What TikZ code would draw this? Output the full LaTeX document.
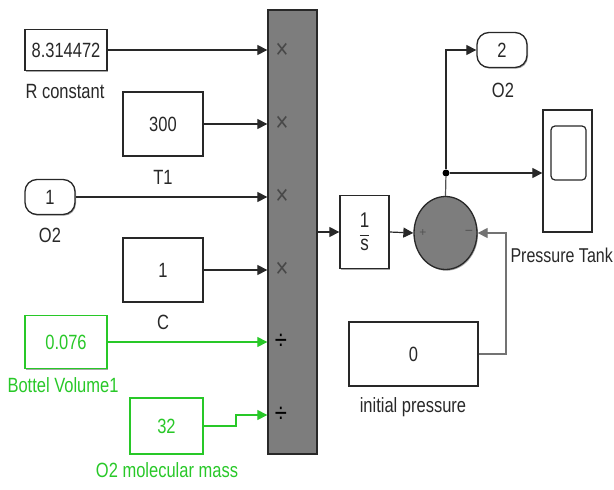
\documentclass[tikz,border=0pt]{standalone}
\usepackage{fontspec}
\setmainfont{Liberation Sans}
\usepackage{graphicx}
\usetikzlibrary{arrows.meta,shapes.geometric,shadows,calc}
\definecolor{sgreen}{RGB}{40,200,40}
\definecolor{ink}{RGB}{40,40,40}
\definecolor{blkgray}{RGB}{125,125,125}
\newcommand\vs[1]{\scalebox{1}[1.25]{#1}}
\begin{document}
\begin{tikzpicture}[x=1pt,y=-1pt,
  every node/.style={font=\fontsize{16.5}{18}\selectfont, text=ink, inner sep=0pt},
  blk/.style={draw=ink, line width=1.3pt, fill=white, rectangle,
    drop shadow={shadow xshift=1pt,shadow yshift=-1.2pt,fill=black,opacity=0.35}},
  gblk/.style={blk, draw=sgreen, text=sgreen},
  portblk/.style={blk, rounded corners=12pt},
  conn/.style={draw=ink, line width=1.2pt, -{Triangle[length=10pt,width=10pt]}},
  gconn/.style={conn, color=sgreen},
  plain/.style={draw=ink!80, line width=1.2pt},
  glbl/.style={text=sgreen},
  sign/.style={font=\fontsize{22}{22}\selectfont, text=ink!85},
]
\useasboundingbox (0,0) rectangle (614,490);

% source blocks
\node[blk, minimum width=82, minimum height=41] (R) at (66,50) {\vs{8.314472}};
\node at (65,92) {\vs{R constant}};
\node[blk, minimum width=80, minimum height=64] (T) at (163,124) {\vs{300}};
\node at (163,177) {\vs{T1}};
\node[portblk, minimum width=50, minimum height=35] (In) at (50,197) {\vs{1}};
\node at (50,235) {\vs{O2}};
\node[blk, minimum width=80, minimum height=64] (C) at (163,270) {\vs{1}};
\node at (163,322) {\vs{C}};
\node[gblk, minimum width=82, minimum height=53] (V) at (66,342) {\vs{0.076}};
\node[glbl] at (63,385) {\vs{Bottel Volume1}};
\node[gblk, minimum width=73, minimum height=56] (M) at (166.5,426) {\vs{32}};
\node[glbl] at (167,470) {\vs{O2 molecular mass}};

% product block
\node[blk, fill=blkgray, minimum width=49, minimum height=444] (P) at (292.5,232) {};
\node[sign] (s1) at (282,51) {\vs{\texttimes}};
\node[sign] (s2) at (282,124) {\vs{\texttimes}};
\node[sign] (s3) at (282,197) {\vs{\texttimes}};
\node[sign] (s4) at (282,270) {\vs{\texttimes}};
\node[sign, text=black] (s5) at (281,342) {\vs{÷}};
\node[sign, text=black] (s6) at (281,415) {\vs{÷}};

\draw[conn] (R.east) -- (R.east -| P.west);
\draw[conn] (T.east) -- (T.east -| P.west);
\draw[conn] (In.east) -- (In.east -| P.west);
\draw[conn] (C.east) -- (C.east -| P.west);
\draw[gconn] (V.east) -- (V.east -| P.west);
\coordinate (mstep) at (236,426);
\draw[gconn] (M.east) -- (mstep) -- (236,415) -- (s6.west -| P.west);

% integrator
\node[blk, minimum width=49, minimum height=73] (I) at (364.5,232) {$\displaystyle\frac{\mbox{\vs{\fontsize{17}{18}\selectfont 1}}}{\mbox{\vs{\fontsize{17}{18}\selectfont s}}}$};
\draw[conn] (P.east |- I.west) -- (I.west);

% sum
\node[blk, ellipse, fill=blkgray, minimum width=63, minimum height=73] (S) at (445.5,233) {};
\node[font=\fontsize{12}{12}\selectfont, text=ink!80] (plus) at (423,233) {+};
\node[font=\fontsize{14}{12}\selectfont, text=ink!80] (minus) at (469,233) {\textminus};
\draw[conn] (I.east) -- (S.west);

% outputs
\node[circle, fill=black, minimum size=7, inner sep=0pt] (J) at (446,173) {};
\node[portblk, minimum width=50, minimum height=35] (O) at (502,50) {\vs{2}};
\node at (503,90) {\vs{O2}};
\node[blk, minimum width=49, minimum height=122] (Sc) at (567.5,171) {};
\node[draw=ink, line width=1.2pt, rounded corners=4pt, minimum width=35, minimum height=54] (scr) at (568.5,153) {};
\node[anchor=east, font=\fontsize{16}{18}\selectfont] at (613,255) {\vs{Pressure Tank}};

\draw[plain] (S.north) -- (J);
\draw[conn] (J) |- (O.west);
\draw[conn] (J) -- (J -| Sc.west);

% initial pressure
\node[blk, minimum width=129, minimum height=64] (IP) at (413.5,354) {\vs{0}};
\node at (413,407) {\vs{initial pressure}};
\coordinate (fb) at (506,233);
\draw[conn, draw=ink!65] (IP.east) -| (fb) -- (S.east);
\end{tikzpicture}
\end{document}
